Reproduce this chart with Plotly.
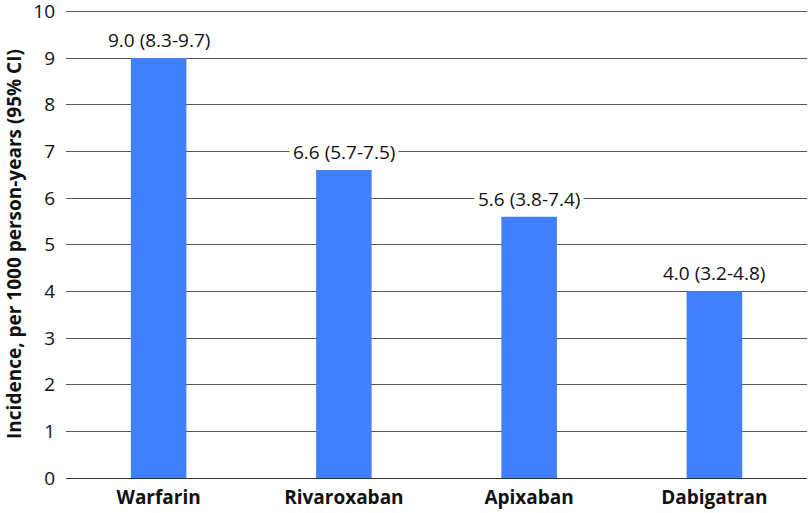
import plotly.graph_objects as go

categories = ["Warfarin", "Rivaroxaban", "Apixaban", "Dabigatran"]
incidence = [9.0, 6.6, 5.6, 4.0]
ci_low = [8.3, 5.7, 3.8, 3.2]
ci_high = [9.7, 7.5, 7.4, 4.8]
y_ticks = list(range(0, 11))

FONT = "Open Sans, Noto Sans, sans-serif"

fig = go.Figure()
fig.add_trace(go.Bar(
    x=categories, y=incidence,
    marker=dict(color="#4080FF", line=dict(width=0)),
    width=0.30,
))

for c, v, lo, hi in zip(categories, incidence, ci_low, ci_high):
    fig.add_annotation(
        x=c, y=v, text=f"{v:.1f} ({lo}-{hi})",
        showarrow=False, yanchor="bottom", yshift=1,
        bgcolor="white", borderpad=3,
        font=dict(family=FONT, size=19, color="#111"),
    )

fig.update_layout(
    width=810, height=513,
    margin=dict(l=66, r=3, t=10, b=35, autoexpand=False),
    paper_bgcolor="white", plot_bgcolor="white",
    showlegend=False,
    xaxis=dict(
        showgrid=False, showline=False, ticks="",
        tickfont=dict(family=FONT, size=19, color="#111", weight="bold"),
        ticklabelstandoff=6,
    ),
    yaxis=dict(
        range=[0, 10.03], tickvals=y_ticks,
        showgrid=True, gridcolor="#555", gridwidth=1,
        zeroline=True, zerolinecolor="#333", zerolinewidth=1,
        showline=False, ticks="",
        tickfont=dict(family=FONT, size=19, color="#111"),
        ticklabelstandoff=10,
        ticklabeloverflow="allow",
        title=dict(text="Incidence, per 1000 person-years (95% CI)",
                   font=dict(family=FONT, size=19, color="#111", weight="bold"),
                   standoff=6),
    ),
)

fig.write_html("out.html", config={"displayModeBar": False},
               post_script="document.body.style.margin='0';document.body.style.padding='0';")
